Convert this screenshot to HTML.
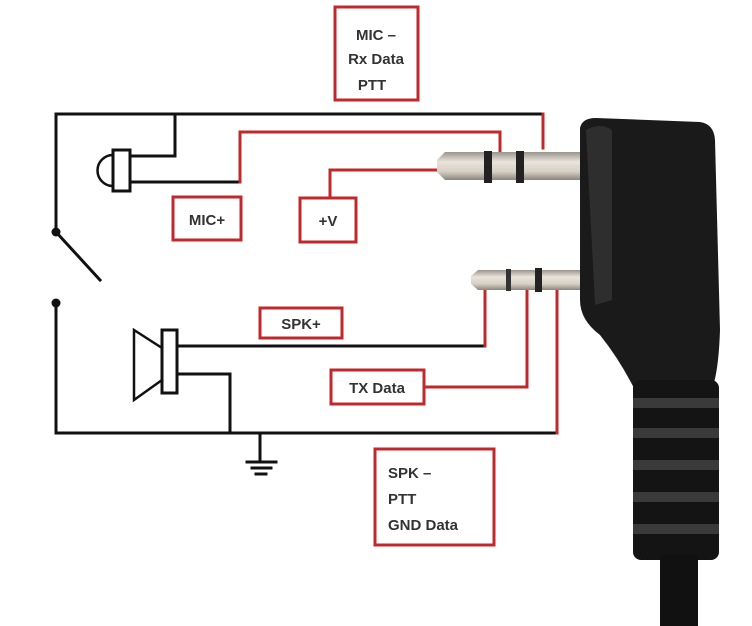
<!DOCTYPE html>
<html><head><meta charset="utf-8"><style>
html,body{margin:0;padding:0;background:#fff;width:752px;height:626px;overflow:hidden}
svg{display:block}
text{font-family:"Liberation Sans",Arial,sans-serif;font-weight:bold;fill:#333;font-size:15px}
</style></head><body>
<svg width="752" height="626" viewBox="0 0 752 626">
<defs>
<linearGradient id="pin" x1="0" y1="0" x2="0" y2="1">
<stop offset="0" stop-color="#9a958c"/><stop offset="0.35" stop-color="#e8e4dc"/><stop offset="0.7" stop-color="#d6d0c4"/><stop offset="1" stop-color="#8a857c"/>
</linearGradient>
</defs>
<g fill="none" stroke-linecap="square">
<path d="M56 114 H543 M56 114 V232 M56 303 V433 H557 M56 232 L100 280 M175 114 V156 H130 M130 182 H240 M178 346 H485 M178 374 H230 V433 M260 433 V462" stroke="#111" stroke-width="3"/>
<path d="M543 114 V148 M557 433 V290 M240 182 V132 H500 V152 M330 198 V170 H438 M485 346 V290 M424 387 H527 V290" stroke="#c0282c" stroke-width="3"/>
<path d="M247 462 H276 M252 468 H271 M256 474 H266" stroke="#111" stroke-width="3"/>
<rect x="113" y="150" width="17" height="41" stroke="#111" stroke-width="3" fill="#fff"/>
<path d="M113 155 A15 15 0 0 0 113 186" stroke="#111" stroke-width="2.5"/>
<rect x="162" y="330" width="15" height="63" stroke="#111" stroke-width="3" fill="#fff"/>
<path d="M162 348 L134 330 V400 L162 380" stroke="#111" stroke-width="2.5"/>
</g>
<circle cx="56" cy="232" r="4.5" fill="#111"/>
<circle cx="56" cy="303" r="4.5" fill="#111"/>
<g fill="#fff" stroke="#c0282c" stroke-width="3">
<rect x="335" y="7" width="83" height="93"/>
<rect x="173" y="197" width="68" height="43"/>
<rect x="300" y="198" width="56" height="44"/>
<rect x="260" y="308" width="82" height="30"/>
<rect x="331" y="370" width="93" height="34"/>
<rect x="375" y="449" width="119" height="96"/>
</g>
<text x="376" y="40" text-anchor="middle">MIC –</text>
<text x="376" y="64" text-anchor="middle">Rx Data</text>
<text x="372" y="90" text-anchor="middle">PTT</text>
<text x="207" y="225" text-anchor="middle">MIC+</text>
<text x="328" y="226" text-anchor="middle">+V</text>
<text x="301" y="329" text-anchor="middle">SPK+</text>
<text x="377" y="393" text-anchor="middle">TX Data</text>
<text x="388" y="478">SPK –</text>
<text x="388" y="504">PTT</text>
<text x="388" y="530">GND Data</text>
<path d="M445 152 H580 V180 H445 L437 172 V160 Z" fill="url(#pin)"/>
<rect x="484" y="151" width="8" height="32" fill="#222"/>
<rect x="516" y="151" width="8" height="32" fill="#222"/>
<path d="M478 270 H590 V290 H478 L471 284 V276 Z" fill="url(#pin)"/>
<rect x="506" y="269" width="5" height="22" fill="#333"/>
<rect x="535" y="268" width="7" height="24" fill="#222"/>
<path d="M580 128 Q582 118 596 118 L700 122 Q714 124 715 140 L720 330 Q718 390 705 400 L636 392 Q620 360 600 335 Q580 320 580 300 Z" fill="#1a1a1a"/>
<path d="M586 130 Q600 122 612 130 L612 300 L595 305 Z" fill="#2e2e2e"/>
<rect x="633" y="380" width="86" height="180" rx="8" fill="#141414"/>
<g fill="#3a3a3a">
<rect x="633" y="398" width="86" height="10"/>
<rect x="633" y="428" width="86" height="10"/>
<rect x="633" y="460" width="86" height="10"/>
<rect x="633" y="492" width="86" height="10"/>
<rect x="633" y="524" width="86" height="10"/>
</g>
<rect x="660" y="555" width="38" height="71" fill="#111"/>
</svg>
</body></html>
